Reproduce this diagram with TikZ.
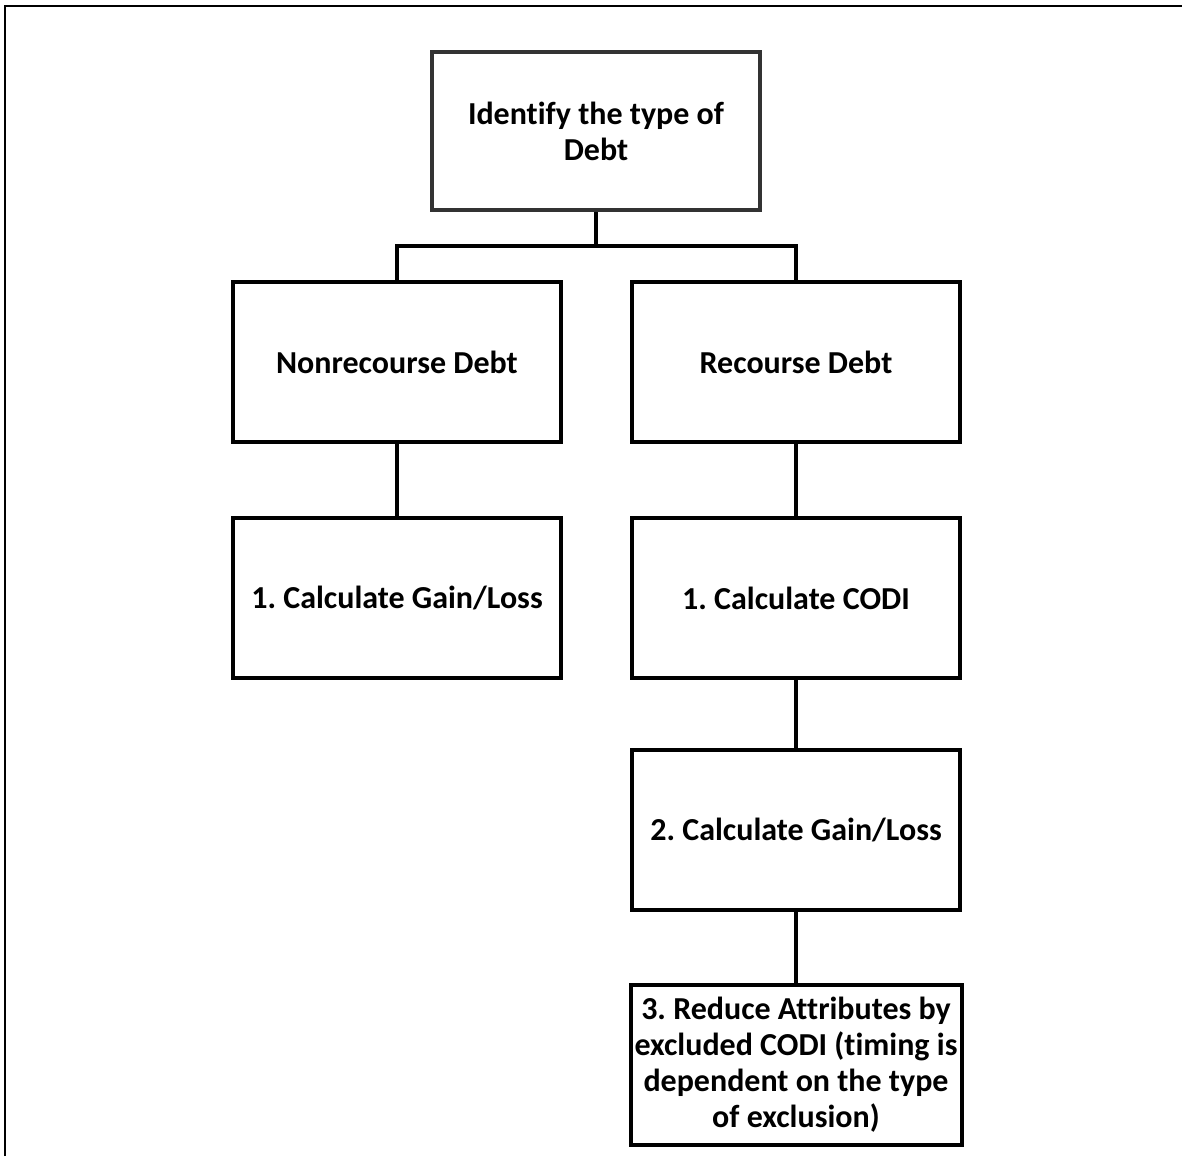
\documentclass[tikz,border=0pt]{standalone}
\usepackage{fontspec}
\setmainfont{Carlito}[Ligatures=NoCommon]
\usetikzlibrary{positioning}

\begin{document}
\begin{tikzpicture}[x=0.5pt,y=-0.5pt,
    box/.style={draw,line width=2pt,minimum width=164pt,minimum height=80pt,
      align=center,inner sep=2pt,font=\bfseries\frenchspacing\fontsize{16}{18}\selectfont},
    link/.style={line width=2pt}]
    \useasboundingbox (0,0) rectangle (1182,1156);
    \draw[line width=1pt] (5,1156) -- (5,6) -- (1182,6);

    \node[box,draw=black!80,minimum height=79pt] (debttype) at (596,131) {Identify the type of\\Debt};
    \node[box] (nonrec) at (397,362) {Nonrecourse Debt};
    \node[box] (rec) at (796,362) {Recourse Debt};
    \node[box] (gainone) at (397,598) {1. Calculate Gain/Loss};
    \node[box] (codi) at (796,598) {1. Calculate CODI};
    \node[box] (gaintwo) at (796,830) {2. Calculate Gain/Loss};
    \node[box] (reduce) at (796,1065) {3. Reduce Attributes by\\excluded CODI (timing is\\dependent on the type\\of exclusion)};

    \coordinate (split) at (596,246);
    \draw[link] (debttype.south) -- (split);
    \draw[link] (nonrec.north) |- (split) -| (rec.north);
    \draw[link] (nonrec) -- (gainone);
    \draw[link] (rec) -- (codi);
    \draw[link] (codi) -- (gaintwo);
    \draw[link] (gaintwo) -- (reduce);

\end{tikzpicture}
\end{document}
